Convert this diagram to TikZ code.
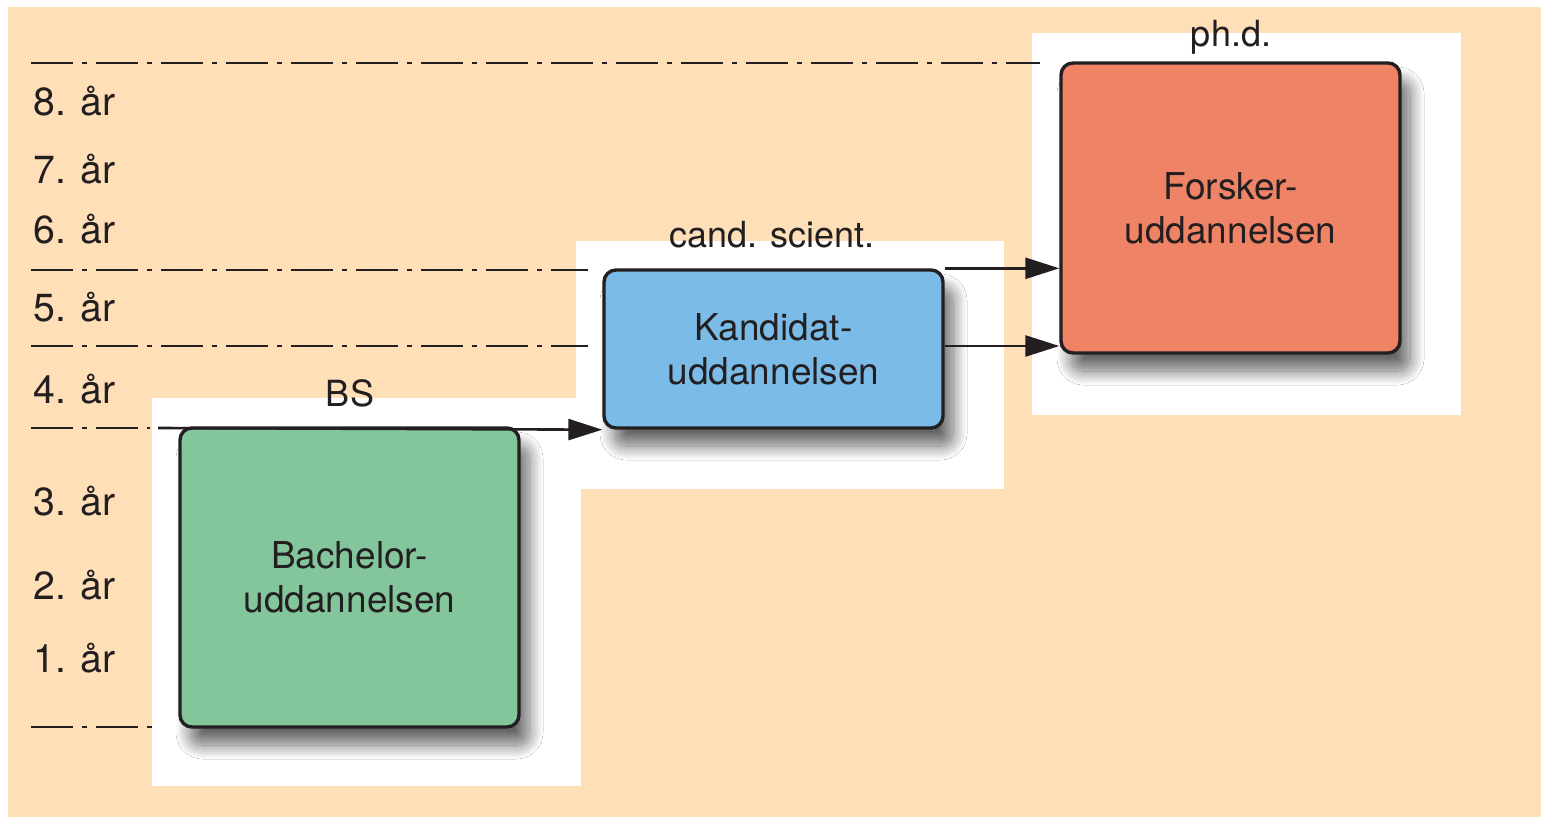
\documentclass[tikz,border=0pt]{standalone}
\usepackage{fontspec}
\setmainfont{TeX Gyre Heros}
\usetikzlibrary{arrows.meta,shadows.blur}
\definecolor{peach}{RGB}{254,223,184}
\definecolor{bgreen}{RGB}{132,198,155}
\definecolor{bblue}{RGB}{122,188,231}
\definecolor{bred}{RGB}{239,131,101}
\definecolor{ink}{RGB}{35,31,32}
\tikzset{
  panel/.style={fill=white,draw=none},
  stagebox/.style={draw=ink,line width=1.7pt,rounded corners=6pt,
    minimum width=169.5pt,align=center,inner sep=0pt,
    font=\fontsize{18.5}{22}\selectfont,text=ink,
    blur shadow={shadow xshift=5pt,shadow yshift=-9pt,shadow blur radius=7pt,shadow opacity=60,shadow blur steps=20}},
  yearline/.style={draw=ink,line width=1.3pt,dash pattern=on 21pt off 4.5pt on 2.5pt off 4.5pt},
  flow/.style={draw=ink,line width=1.3pt,-{Triangle[length=17pt,width=10.5pt]}},
  yearlabel/.style={anchor=base west,inner sep=0pt,font=\fontsize{19.6}{22}\selectfont,text=ink},
  toplabel/.style={anchor=base,inner sep=0pt,font=\fontsize{18}{22}\selectfont,text=ink}
}
\begin{document}
\begin{tikzpicture}[x=0.5pt,y=-0.5pt]
\useasboundingbox (0,0) rectangle (1541,817);
\fill[peach] (8,7) rectangle (1541,817);
% white panels
\fill[panel] (152,398) rectangle (581,786);
\fill[panel] (576,241) rectangle (1004,489);
\fill[panel] (1032,33) rectangle (1461,415);
% year lines
\coordinate (l8a) at (31,63);  \coordinate (l8b) at (1040,63);
\coordinate (l6a) at (31,270); \coordinate (l6b) at (588,270);
\coordinate (l5a) at (31,346); \coordinate (l5b) at (588,346);
\coordinate (l4a) at (31,428); \coordinate (l4b) at (150,428);
\coordinate (l0a) at (31,727); \coordinate (l0b) at (152,727);
\draw[yearline] (l8a) -- (l8b);
\draw[yearline] (l6a) -- (l6b);
\draw[yearline] (l5a) -- (l5b);
\draw[yearline] (l4a) -- (l4b);
\draw[yearline] (l0a) -- (l0b);
% boxes
\node[stagebox,fill=bgreen,minimum height=149.5pt] (bach) at (349.5,577.5) {Bachelor-\\uddannelsen};
\node[stagebox,fill=bblue,minimum height=79pt] (kand) at (773.5,349) {Kandidat-\\uddannelsen};
\node[stagebox,fill=bred,minimum height=145pt] (fors) at (1230.5,208) {Forsker-\\uddannelsen};
% arrows
\coordinate (bsstart) at (158,428);
\draw[flow] (bsstart) -- (kand.south west);
\draw[flow] (kand.north east) -- (kand.north east -| fors.west);
\draw[flow] ([yshift=1.5pt]kand.east) -- ([yshift=1.5pt]kand.east -| fors.west);
% labels
\node[toplabel] (bs) at (350,407) {BS};
\node[toplabel] (cs) at (772,248) {cand. scient.};
\node[toplabel] (phd) at (1231,47) {ph.d.};
\node[yearlabel] (y8) at (33,116) {8. år};
\node[yearlabel] (y7) at (33,184) {7. år};
\node[yearlabel] (y6) at (33,244) {6. år};
\node[yearlabel] (y5) at (33,322) {5. år};
\node[yearlabel] (y4) at (33,404) {4. år};
\node[yearlabel] (y3) at (33,516) {3. år};
\node[yearlabel] (y2) at (33,599) {2. år};
\node[yearlabel] (y1) at (33,672) {1. år};
\end{tikzpicture}
\end{document}
